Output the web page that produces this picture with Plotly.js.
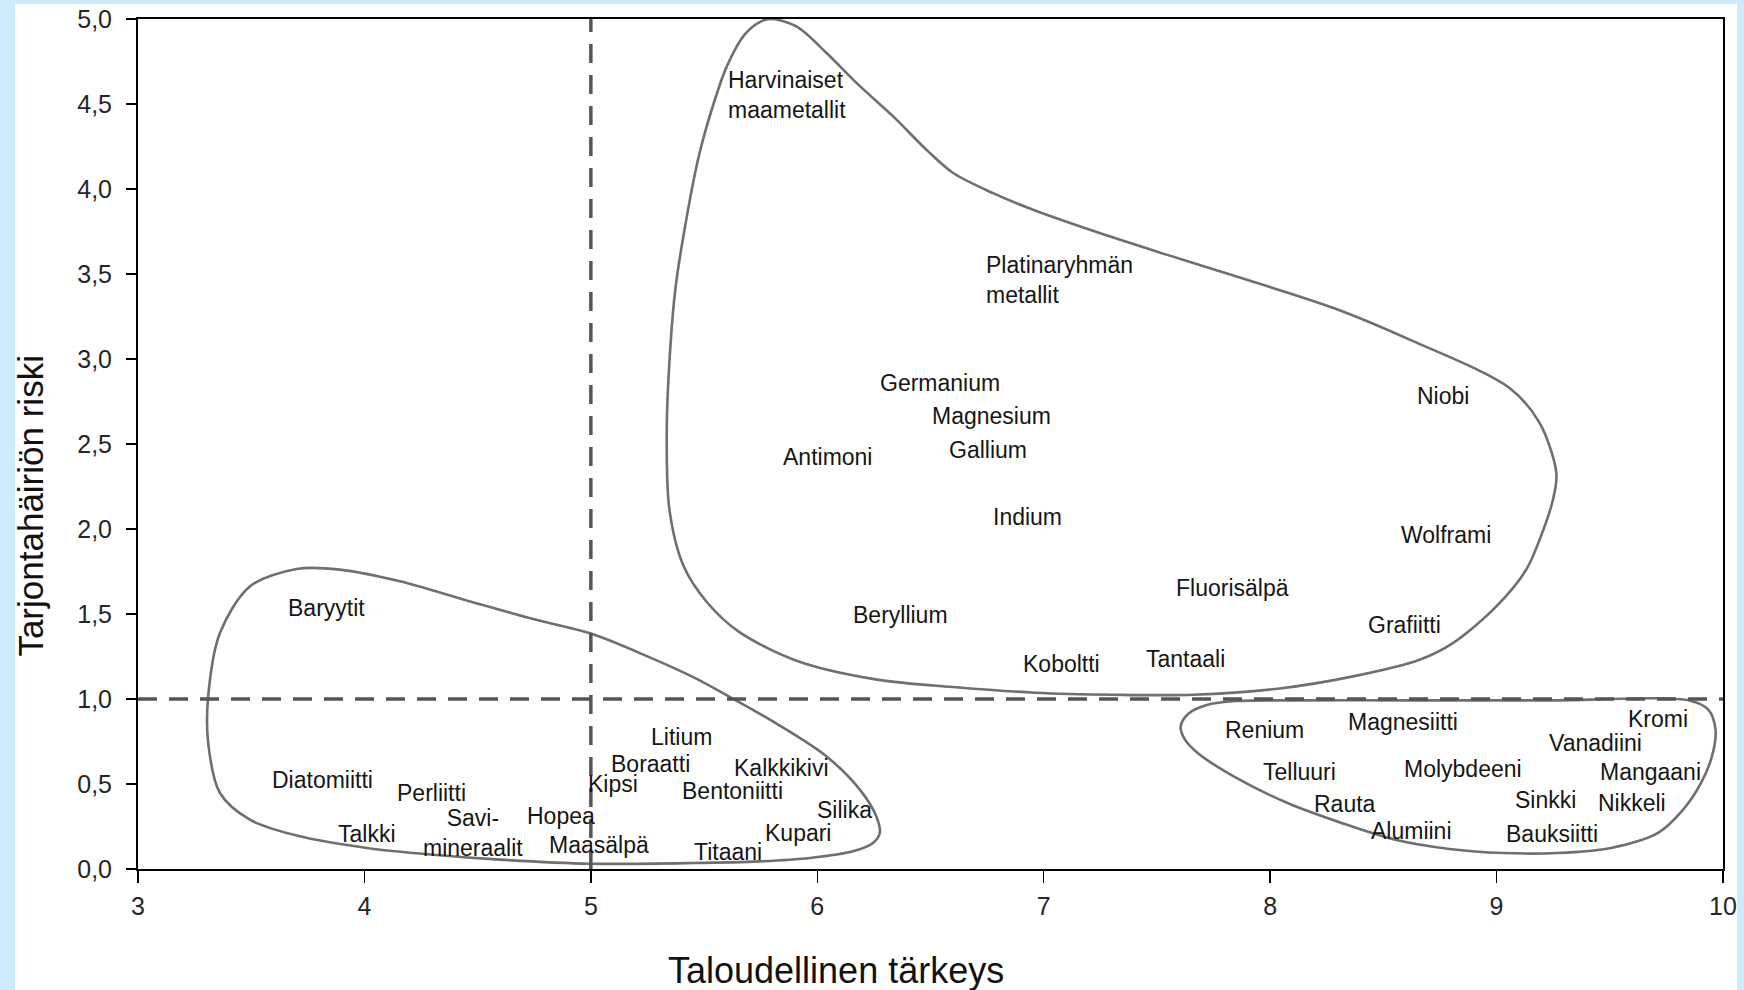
<!DOCTYPE html>
<html>
<head>
<meta charset="utf-8">
<script src="https://cdn.plot.ly/plotly-3.0.1.min.js"></script>
<style>
  html, body { margin: 0; padding: 0; background: #cdebfd; width: 1744px; height: 990px; overflow: hidden; }
  #chart { position: absolute; left: 0; top: 0; width: 1744px; height: 990px; }
</style>
</head>
<body>
<div id="chart"></div>
<script>
// ---- Data ----
const xTicks = [3, 4, 5, 6, 7, 8, 9, 10];
const yTicks = [0, 0.5, 1, 1.5, 2, 2.5, 3, 3.5, 4, 4.5, 5];
const xThreshold = 5;   // economic importance threshold
const yThreshold = 1.0; // supply risk threshold

// Outline of the "critical" group (upper region)
const criticalX = [5.798, 5.908, 6.041, 6.173, 6.335, 6.482, 6.600, 6.776, 6.953, 7.247, 7.542, 7.777, 8.280, 8.616,
  9.057, 9.190, 9.264, 9.249, 9.190, 9.131, 8.999, 8.807, 8.660, 8.366, 8.042, 7.661, 7.311, 6.962,
  6.613, 6.264, 5.915, 5.653, 5.513, 5.408, 5.347, 5.335, 5.347, 5.374, 5.426, 5.478, 5.530, 5.600, 5.680, 5.750, 5.798];
const criticalY = [5.000, 4.956, 4.800, 4.624, 4.427, 4.231, 4.094, 3.976, 3.878, 3.741, 3.614, 3.516, 3.300, 3.114,
  2.829, 2.624, 2.329, 2.172, 1.937, 1.761, 1.545, 1.329, 1.231, 1.133, 1.062, 1.025, 1.025, 1.037,
  1.069, 1.114, 1.222, 1.396, 1.569, 1.787, 2.114, 2.549, 2.984, 3.419, 3.855, 4.200, 4.450, 4.720, 4.910, 4.985, 5.000];

// Outline of the low-importance / low-risk group (lower left)
const lowLeftX = [3.701, 3.892, 4.157, 4.451, 4.745, 5.000, 5.260, 5.450, 5.630, 5.820, 6.041, 6.188, 6.261, 6.276, 6.246,
  6.158, 5.968, 5.746, 5.452, 4.996, 4.598, 4.304, 4.010, 3.715, 3.494, 3.362, 3.310, 3.310, 3.362, 3.494, 3.701];
const lowLeftY = [1.765, 1.761, 1.692, 1.580, 1.470, 1.385, 1.245, 1.130, 1.000, 0.855, 0.662, 0.467, 0.309, 0.212, 0.153,
  0.104, 0.065, 0.045, 0.035, 0.031, 0.055, 0.084, 0.124, 0.192, 0.290, 0.447, 0.741, 1.015, 1.388, 1.662, 1.765];

// Outline of the important / low-risk group (lower right)
const lowRightX = [7.850, 8.100, 8.572, 9.234, 9.856, 9.935, 9.967, 9.951, 9.903, 9.824, 9.713, 9.506, 9.268, 9.030,
  8.792, 8.553, 8.315, 8.077, 7.839, 7.680, 7.622, 7.605, 7.640, 7.720, 7.850];
const lowRightY = [0.988, 0.992, 0.992, 0.992, 0.990, 0.937, 0.819, 0.662, 0.506, 0.349, 0.212, 0.124, 0.094, 0.094,
  0.118, 0.172, 0.271, 0.388, 0.545, 0.682, 0.765, 0.840, 0.915, 0.965, 0.988];

// Material labels (x = economic importance, y = supply risk)
const labelTexts = ['Harvinaiset<br>maametallit', 'Platinaryhmän<br>metallit', 'Germanium', 'Magnesium', 'Gallium',
  'Antimoni', 'Indium', 'Niobi', 'Wolframi', 'Fluorisälpä', 'Beryllium', 'Grafiitti', 'Koboltti', 'Tantaali',
  'Baryytit', 'Diatomiitti', 'Perliitti', 'Talkki', 'Savi-<br>mineraalit', 'Hopea', 'Maasälpä', 'Kipsi', 'Boraatti',
  'Litium', 'Kalkkikivi', 'Bentoniitti', 'Silika', 'Kupari', 'Titaani',
  'Renium', 'Magnesiitti', 'Telluuri', 'Molybdeeni', 'Rauta', 'Alumiini', 'Kromi', 'Vanadiini', 'Mangaani',
  'Sinkki', 'Nikkeli', 'Bauksiitti'];
const labelX = [5.602, 6.740, 6.273, 6.504, 6.578,
  5.843, 6.773, 8.645, 8.572, 7.578, 6.154, 8.427, 6.903, 7.446,
  3.659, 3.587, 4.138, 3.880, 4.479, 4.712, 4.811, 4.984, 5.083,
  5.260, 5.628, 5.400, 5.996, 5.764, 5.452,
  7.794, 8.339, 7.962, 8.588, 8.191, 8.442, 9.578, 9.228, 9.451,
  9.077, 9.443, 9.038];
const labelY = [4.555, 3.465, 2.858, 2.665, 2.466,
  2.423, 2.068, 2.780, 1.966, 1.654, 1.496, 1.433, 1.208, 1.234,
  1.535, 0.521, 0.447, 0.208, 0.209, 0.309, 0.139, 0.501, 0.619,
  0.775, 0.594, 0.456, 0.349, 0.212, 0.100,
  0.819, 0.865, 0.571, 0.588, 0.382, 0.221, 0.882, 0.741, 0.571,
  0.408, 0.388, 0.208];
const centeredLabels = ['Savi-<br>mineraalit'];

const xTitle = 'Taloudellinen tärkeys';
const yTitle = 'Tarjontahäiriön riski';

// ---- Chart ----
const FONT = 'Liberation Sans, Arial, Helvetica, sans-serif';
const outline = { color: '#6f6f6f', width: 2.6, shape: 'spline', smoothing: 0.9 };

const traces = [
  { x: criticalX, y: criticalY, mode: 'lines', line: outline, hoverinfo: 'skip', showlegend: false },
  { x: lowLeftX, y: lowLeftY, mode: 'lines', line: outline, hoverinfo: 'skip', showlegend: false },
  { x: lowRightX, y: lowRightY, mode: 'lines', line: outline, hoverinfo: 'skip', showlegend: false }
];

const annotations = labelTexts.map((t, i) => {
  const centered = centeredLabels.includes(t);
  return {
    text: t, x: labelX[i], y: labelY[i], xref: 'x', yref: 'y',
    xanchor: centered ? 'center' : 'left', yanchor: 'middle',
    align: centered ? 'center' : 'left',
    showarrow: false, borderpad: 0,
    font: { family: FONT, size: 23, color: '#161616' }
  };
});

annotations.push({
  text: xTitle, xref: 'paper', yref: 'paper', x: 0.4404, y: -0.1195,
  xanchor: 'center', yanchor: 'middle', showarrow: false, borderpad: 0,
  font: { family: FONT, size: 36, color: '#111' }
});
annotations.push({
  text: yTitle, xref: 'paper', yref: 'paper', x: -0.0681, y: 0.4276,
  xanchor: 'center', yanchor: 'middle', textangle: -90, showarrow: false, borderpad: 0,
  font: { family: FONT, size: 35, color: '#111' }
});

const dashStyle = { color: '#555555', width: 3.5, dash: '19px,12px' };
const shapes = [
  // white drawing sheet over the light-blue page
  { type: 'rect', xref: 'paper', yref: 'paper', x0: -0.0776, x1: 1.00883, y0: -0.2, y1: 1.01765,
    fillcolor: '#ffffff', line: { width: 0 }, layer: 'below' },
  { type: 'line', xref: 'x', yref: 'y', x0: xThreshold, x1: xThreshold, y0: yTicks[0], y1: yTicks[yTicks.length - 1], line: dashStyle },
  { type: 'line', xref: 'x', yref: 'y', x0: xTicks[0], x1: xTicks[xTicks.length - 1], y0: yThreshold, y1: yThreshold, line: dashStyle }
];

const layout = {
  width: 1744, height: 990,
  margin: { l: 138, r: 21, t: 19, b: 121, pad: 0 },
  paper_bgcolor: '#cdebfd', plot_bgcolor: '#ffffff',
  separators: ', ',
  font: { family: FONT, color: '#222' },
  showlegend: false,
  xaxis: {
    range: [xTicks[0], xTicks[xTicks.length - 1]], tickmode: 'array', tickvals: xTicks,
    ticktext: xTicks.map(String),
    showgrid: false, zeroline: false, showline: true, mirror: true, linecolor: '#000', linewidth: 2,
    ticks: 'outside', ticklen: 12, tickwidth: 1.5, tickcolor: '#000', ticklabelstandoff: 2,
    tickfont: { family: FONT, size: 25, color: '#262626' }
  },
  yaxis: {
    range: [yTicks[0], yTicks[yTicks.length - 1]], tickmode: 'array', tickvals: yTicks,
    ticktext: yTicks.map(v => v.toFixed(1).replace('.', ',')),
    showgrid: false, zeroline: false, showline: true, mirror: true, linecolor: '#000', linewidth: 2,
    ticks: 'outside', ticklen: 10, tickwidth: 1.5, tickcolor: '#000', ticklabelstandoff: 9,
    tickfont: { family: FONT, size: 25, color: '#262626' }
  },
  shapes: shapes,
  annotations: annotations
};

Plotly.newPlot('chart', traces, layout, { staticPlot: true, displayModeBar: false });
</script>
</body>
</html>
